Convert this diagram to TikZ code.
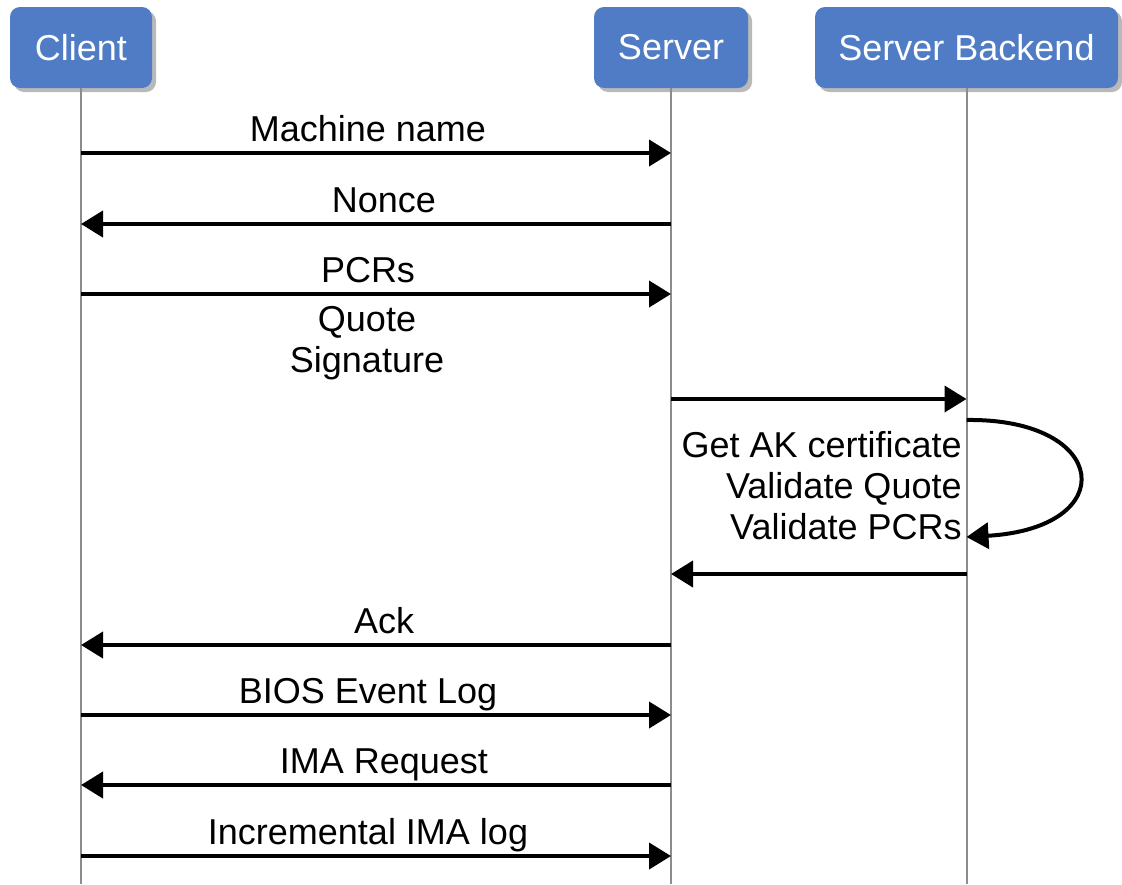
\documentclass[tikz,border=0pt]{standalone}
\usepackage{fontspec}
\setmainfont{Liberation Sans}
\usepackage{tikz}
\usetikzlibrary{arrows.meta,shadows}
\definecolor{actorblue}{RGB}{80,124,197}
\definecolor{lifegray}{RGB}{140,140,140}

\tikzset{
  actor/.style={rectangle, rounded corners=5pt, fill=actorblue, text=white,
    font=\fontsize{18}{21}\selectfont, minimum height=40.5pt,
    drop shadow={shadow xshift=2pt, shadow yshift=-2pt, opacity=0.55}},
  lifeline/.style={draw=lifegray, line width=1pt},
  msg/.style={line width=2pt, -{Triangle[length=11pt,width=13pt]}},
  msgtext/.style={font=\fontsize{18}{20.5}\selectfont, anchor=base, inner sep=0pt},
}

\begin{document}
\begin{tikzpicture}[x=0.5pt,y=-0.5pt]
\useasboundingbox (0,0) rectangle (1122,884);

% participants
\node[actor, minimum width=71pt] (client) at (81,47.5) {Client};
\node[actor, minimum width=77pt] (server) at (671,47.5) {Server};
\node[actor, minimum width=151.5pt] (backend) at (966.5,47.5) {Server Backend};

% lifelines
\coordinate (clientend) at (client |- 0,884);
\coordinate (serverend) at (server |- 0,884);
\coordinate (backendend) at (backend |- 0,884);
\draw[lifeline] (client.south) -- (clientend);
\draw[lifeline] (server.south) -- (serverend);
\draw[lifeline] (backend.south) -- (backendend);

% messages between client and server
\foreach \y/\a/\b/\txt/\dx in {153/client/server/Machine name/-8,
    224/server/client/Nonce/8,
    294/client/server/PCRs/-8,
    645/server/client/Ack/8,
    715/client/server/BIOS Event Log/-8,
    785/server/client/IMA Request/8,
    856/client/server/Incremental IMA log/-8}
  \draw[msg] (\a |- 0,\y) -- (\b |- 0,\y)
    node[msgtext, midway, yshift=6pt, xshift=\dx*0.5pt] {\txt};

% base sits on the last line
\node[msgtext, align=center] (quote) at (367,372) {Quote\\Signature};

% backend round trip
\draw[msg] (server |- 0,399) -- (backend |- 0,399);
\draw[msg] (backend |- 0,420) .. controls (1110,418) and (1122,528) .. (backend |- 0,537);
\node[msgtext, align=right, anchor=base east] (checks) at (962,539)
  {Get AK certificate\\Validate Quote\\Validate PCRs};
\draw[msg] (backend |- 0,574) -- (server |- 0,574);
\end{tikzpicture}
\end{document}
